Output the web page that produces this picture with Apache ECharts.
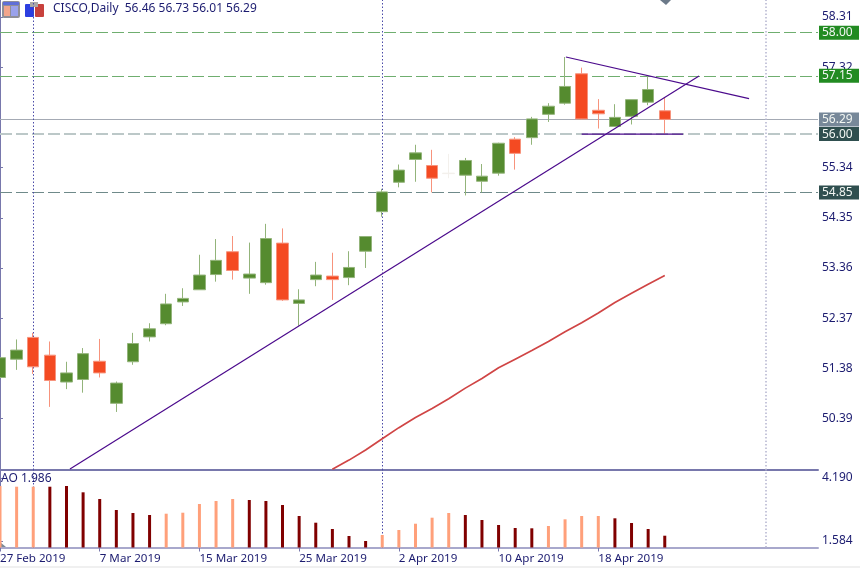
<!DOCTYPE html>
<html>
<head>
<meta charset="utf-8">
<style>
    html, body { margin: 0; padding: 0; background: #fff; }
    #chart { width: 860px; height: 568px; }
</style>
<script src="https://cdn.jsdelivr.net/npm/echarts@6/dist/echarts.min.js"></script>
</head>
<body>
<div id="chart"></div>
<script>
    var opens = [51.20, 51.56, 51.99, 51.64, 51.11, 51.16, 51.52, 50.69, 51.51, 52.00, 52.26, 52.69, 52.93, 53.23, 53.68, 53.16, 53.07, 53.85, 52.66, 53.13, 53.20, 53.17, 53.69, 54.47, 55.05, 55.50, 55.38, 55.22, 55.19, 55.07, 55.23, 55.90, 55.93, 56.39, 56.61, 57.19, 56.47, 56.15, 56.35, 56.63, 56.46];
    var closes = [51.59, 51.74, 51.41, 51.14, 51.29, 51.67, 51.29, 51.09, 51.87, 52.16, 52.65, 52.76, 53.22, 53.51, 53.31, 53.24, 53.94, 52.73, 52.73, 53.22, 53.13, 53.37, 53.98, 54.86, 55.29, 55.63, 55.13, 55.23, 55.48, 55.17, 55.82, 55.62, 56.30, 56.55, 56.94, 56.30, 56.40, 56.33, 56.68, 56.88, 56.29];
    var lows = [51.19, 51.35, 51.27, 50.62, 50.97, 50.90, 51.20, 50.52, 51.45, 51.91, 52.23, 52.61, 52.93, 53.09, 53.13, 52.85, 53.03, 52.71, 52.22, 53.00, 52.73, 53.02, 53.36, 54.37, 54.95, 55.06, 54.85, 55.13, 54.79, 54.85, 55.18, 55.30, 55.79, 56.24, 56.58, 56.29, 56.11, 56.15, 56.19, 56.57, 56.01];
    var highs = [51.60, 51.95, 52.08, 51.91, 51.51, 51.78, 51.96, 51.12, 52.08, 52.27, 52.85, 52.96, 53.62, 53.93, 53.99, 53.86, 54.23, 54.14, 52.94, 53.48, 53.66, 53.69, 53.98, 54.92, 55.40, 55.79, 55.69, 55.61, 55.53, 55.41, 55.83, 55.94, 56.34, 56.61, 57.52, 57.31, 56.69, 56.59, 56.68, 57.16, 56.73];
    var fadedCandles = [27];

    var maStart = 20;
    var maValues = [49.39, 49.57, 49.77, 49.99, 50.21, 50.41, 50.59, 50.78, 50.99, 51.18, 51.39, 51.56, 51.73, 51.91, 52.10, 52.28, 52.47, 52.68, 52.86, 53.04, 53.21];

    var aoValues = [3.859, 3.830, 3.830, 3.830, 3.859, 3.598, 3.321, 2.866, 2.742, 2.659, 2.713, 2.754, 3.114, 3.238, 3.321, 3.280, 3.238, 3.073, 2.618, 2.341, 2.080, 1.790, 1.584, 1.832, 2.039, 2.299, 2.548, 2.742, 2.659, 2.452, 2.246, 2.122, 2.109, 2.204, 2.481, 2.618, 2.618, 2.523, 2.328, 2.080, 1.803];
    var aoLight = [0, 1, 2, 10, 11, 12, 13, 14, 23, 24, 25, 26, 27, 33, 34, 35, 36];

    var dateTicks = [0, 6, 12, 18, 24, 30, 36];
    var dateLabels = ['27 Feb 2019', '7 Mar 2019', '15 Mar 2019', '25 Mar 2019', '2 Apr 2019', '10 Apr 2019', '18 Apr 2019'];
    var priceTicks = [50.39, 51.38, 52.37, 53.36, 54.35, 55.34, 57.32, 58.31];
    var aoTicks = [1.584, 4.190];
    var periodBreaks = [2, 23, 46.1];

    var risingLine = [[4.21, 49.395], [42.06, 57.146]];
    var fallingLine = [[34.05, 57.52], [45.07, 56.70]];
    var supportLine = [[35.0, 56.00], [41.1, 56.00]];

    var FONT = 'Noto Sans';
    var NAVY = '#1c1c70';
    var AXIS_COLOR = '#7878ac';

    function candleData() {
        var rows = [];
        for (var i = 0; i < opens.length; i++) {
            var row = { value: [i, opens[i], closes[i], lows[i], highs[i]] };
            if (fadedCandles.indexOf(i) >= 0) {
                row.itemStyle = { color: '#f3f0ec', borderColor: '#f3f0ec' };
            }
            rows.push(row);
        }
        return rows;
    }

    function maData() {
        return maValues.map(function (v, i) { return [maStart + i, v]; });
    }

    function aoData() {
        return aoValues.map(function (v, i) {
            return {
                value: [i, v],
                itemStyle: { color: aoLight.indexOf(i) >= 0 ? '#ffa07a' : '#800000' }
            };
        });
    }

    // horizontal level with its badge on the price axis
    function level(value, lineColor, badgeColor, width, type) {
        return {
            yAxis: value,
            lineStyle: { color: lineColor, width: width, type: type },
            label: {
                show: true,
                position: 'end',
                distance: 1,
                formatter: value.toFixed(2),
                color: '#f2f6f2',
                backgroundColor: badgeColor,
                fontFamily: FONT,
                fontSize: 12,
                width: 35,
                height: 14,
                lineHeight: 15,
                padding: [0, 2, 0, 3]
            }
        };
    }

    function breakLines() {
        return periodBreaks.map(function (x, i) {
            return {
                xAxis: x,
                lineStyle: {
                    color: i === 2 ? '#b4b4d0' : '#4a4aa8',
                    width: i === 2 ? 1.5 : 1,
                    type: [1.5, 2]
                }
            };
        });
    }

    function trend(points) {
        return {
            type: 'line',
            data: points,
            xAxisIndex: 0,
            yAxisIndex: 0,
            showSymbol: false,
            z: 4,
            lineStyle: { color: '#4b0a8c', width: 1.2 }
        };
    }

    var chart = echarts.init(document.getElementById('chart'), null, { renderer: 'canvas' });
    chart.setOption({
        animation: false,
        backgroundColor: '#ffffff',
        title: [
            {
                text: 'CISCO,Daily  56.46 56.73 56.01 56.29',
                left: 53,
                top: 3,
                padding: 0,
                textStyle: { color: NAVY, fontFamily: FONT, fontSize: 12, fontWeight: 'normal' }
            },
            {
                text: 'AO 1.986',
                left: 1,
                top: 473,
                padding: 0,
                textStyle: { color: NAVY, fontFamily: FONT, fontSize: 12, fontWeight: 'normal' }
            }
        ],
        grid: [
            { left: 0, right: 42, top: 0, height: 470, outerBoundsMode: 'none' },
            { left: 0, right: 42, top: 470, height: 77.5, outerBoundsMode: 'none' }
        ],
        xAxis: [
            {
                type: 'value',
                gridIndex: 0,
                min: 0,
                max: 49.22,
                splitLine: { show: false },
                axisTick: { show: false },
                axisLabel: { show: false },
                axisLine: { show: true, onZero: false, lineStyle: { color: AXIS_COLOR, width: 2 } }
            },
            {
                type: 'value',
                gridIndex: 1,
                min: 0,
                max: 49.22,
                splitLine: { show: false },
                axisTick: { show: true, length: 4, customValues: dateTicks, lineStyle: { color: AXIS_COLOR } },
                axisLine: { show: true, onZero: false, lineStyle: { color: '#a8a8cc', width: 2 } },
                axisLabel: {
                    show: true,
                    color: NAVY,
                    fontFamily: FONT,
                    fontSize: 11.6,
                    align: 'left',
                    margin: 5,
                    customValues: dateTicks,
                    formatter: function (v) { return dateLabels[dateTicks.indexOf(v)]; }
                }
            }
        ],
        yAxis: [
            {
                type: 'value',
                gridIndex: 0,
                position: 'right',
                min: 49.375,
                max: 58.645,
                splitLine: { show: false },
                axisLine: { show: true, lineStyle: { color: AXIS_COLOR } },
                axisTick: { show: true, length: 3, customValues: priceTicks, lineStyle: { color: AXIS_COLOR } },
                axisLabel: { color: NAVY, fontFamily: FONT, fontSize: 12, margin: 4, customValues: priceTicks, formatter: function (v) { return v.toFixed(2); } }
            },
            {
                type: 'value',
                gridIndex: 1,
                position: 'right',
                min: 1.315,
                max: 4.521,
                splitLine: { show: false },
                axisLine: { show: true, lineStyle: { color: AXIS_COLOR } },
                axisTick: { show: true, length: 3, customValues: aoTicks, lineStyle: { color: AXIS_COLOR } },
                axisLabel: { color: NAVY, fontFamily: FONT, fontSize: 12, margin: 4, customValues: aoTicks, formatter: function (v) { return v.toFixed(3); } }
            }
        ],
        series: [
            {
                type: 'candlestick',
                xAxisIndex: 0,
                yAxisIndex: 0,
                barWidth: 12,
                z: 3,
                encode: { x: 0, y: [1, 2, 3, 4] },
                itemStyle: {
                    color: '#558b2f',
                    color0: '#f44a22',
                    borderColor: '#93b47a',
                    borderColor0: '#f7937c',
                    borderWidth: 1
                },
                data: candleData(),
                markLine: {
                    silent: true,
                    symbol: 'none',
                    z: 1,
                    label: { show: false },
                    data: [
                        level(58.00, '#6fae6f', '#228b22', 1, [12, 4]),
                        level(57.15, '#6fae6f', '#228b22', 1, [12, 4]),
                        level(56.29, '#a4aab4', '#778899', 1, 'solid'),
                        level(56.00, '#bcc8c8', '#2f4f4f', 2, [12, 4]),
                        level(54.85, '#6f8a8a', '#2f4f4f', 1, [12, 4])
                    ].concat(breakLines())
                }
            },
            trend(risingLine),
            trend(fallingLine),
            trend(supportLine),
            {
                type: 'line',
                name: 'MA',
                data: maData(),
                xAxisIndex: 0,
                yAxisIndex: 0,
                showSymbol: false,
                z: 4,
                lineStyle: { color: '#d04545', width: 1.7 }
            },
            {
                type: 'bar',
                name: 'AO',
                xAxisIndex: 1,
                yAxisIndex: 1,
                barWidth: 3,
                z: 3,
                data: aoData(),
                markLine: {
                    silent: true,
                    symbol: 'none',
                    z: 1,
                    label: { show: false },
                    data: breakLines()
                }
            }
        ],
        graphic: [
            // toolbar icons
            { type: 'rect', shape: { x: 2, y: 1, width: 18, height: 17, r: 2 }, style: { fill: '#8f8f98' } },
            { type: 'rect', shape: { x: 3, y: 2, width: 16, height: 3 }, style: { fill: '#5f6fd8' } },
            { type: 'rect', shape: { x: 4, y: 6, width: 6, height: 10 }, style: { fill: '#f2a58c' } },
            { type: 'rect', shape: { x: 11, y: 6, width: 7, height: 10 }, style: { fill: '#9aa2ec' } },
            { type: 'rect', shape: { x: 25, y: 4, width: 9, height: 13, r: 1 }, style: { fill: '#2c3fe0' } },
            { type: 'rect', shape: { x: 35, y: 4, width: 9, height: 13, r: 1 }, style: { fill: '#c8413c' } },
            { type: 'rect', shape: { x: 30, y: 2, width: 8, height: 5 }, style: { fill: '#a9a9a9' } },
            // small markers at the chart edges
            { type: 'polygon', shape: { points: [[660, 0], [671, 0], [666, 5]] }, style: { fill: '#6c7a89' } },
            { type: 'polygon', shape: { points: [[0, 542], [0, 547], [6, 547]] }, style: { fill: '#7c8a96' } },
            { type: 'rect', shape: { x: 0, y: 566, width: 860, height: 2 }, style: { fill: '#f0f0f0' } }
        ]
    });
</script>
</body>
</html>
